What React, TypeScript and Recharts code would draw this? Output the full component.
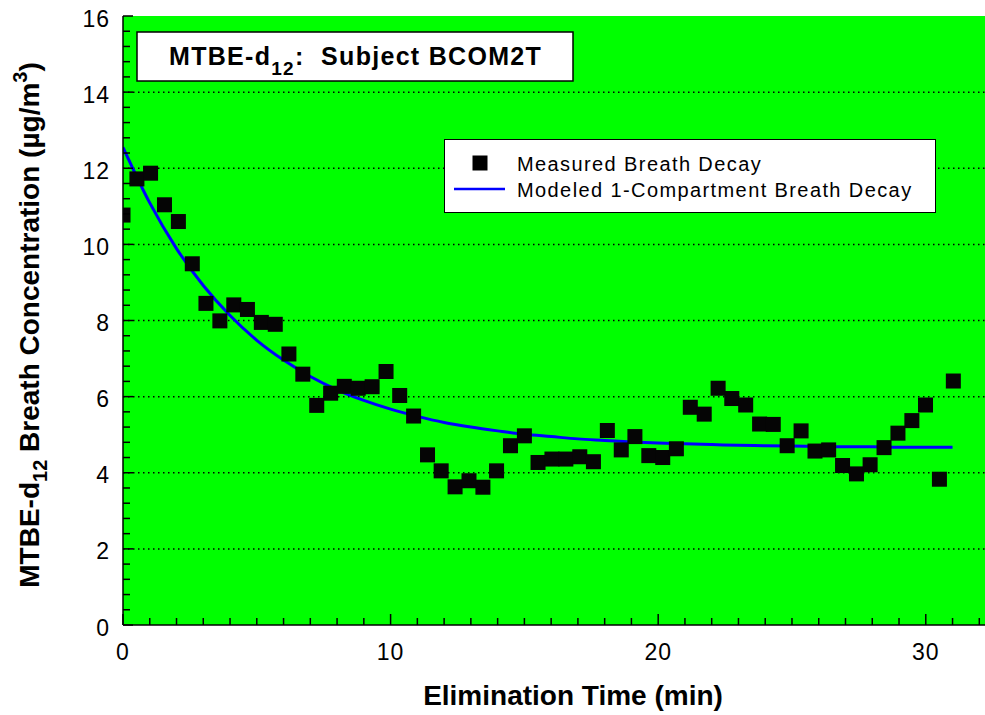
import { ComposedChart, Scatter, Line, XAxis, YAxis, CartesianGrid, Legend } from 'recharts';

// measured breath samples (min, µg/m3)
const measuredTime = [
  0, 0.52, 1.03, 1.55, 2.07, 2.59, 3.1, 3.62, 4.14, 4.65,
  5.17, 5.69, 6.2, 6.72, 7.24, 7.76, 8.27, 8.79, 9.31, 9.83,
  10.34, 10.86, 11.38, 11.89, 12.41, 12.93, 13.45, 13.96, 14.48, 15.0,
  15.51, 16.03, 16.55, 17.07, 17.58, 18.1, 18.62, 19.13, 19.65, 20.17,
  20.68, 21.2, 21.72, 22.24, 22.75, 23.27, 23.79, 24.3, 24.82, 25.34,
  25.86, 26.37, 26.89, 27.41, 27.92, 28.44, 28.96, 29.48, 29.99, 30.51,
  31.03,
];
const measuredConc = [
  10.77, 11.72, 11.87, 11.04, 10.6, 9.49, 8.45, 7.99, 8.41, 8.29,
  7.95, 7.9, 7.12, 6.59, 5.77, 6.09, 6.27, 6.22, 6.26, 6.66,
  6.03, 5.49, 4.47, 4.05, 3.63, 3.79, 3.62, 4.05, 4.71, 4.97,
  4.27, 4.36, 4.36, 4.42, 4.29, 5.11, 4.6, 4.95, 4.45, 4.4,
  4.63, 5.72, 5.54, 6.22, 5.95, 5.78, 5.28, 5.27, 4.71, 5.1,
  4.57, 4.6, 4.19, 3.97, 4.21, 4.66, 5.04, 5.37, 5.78, 3.83,
  6.41,
];

// modeled 1-compartment curve
const modelTime = [
  0, 1, 2, 3, 4, 5, 6, 7, 8, 9, 10, 11, 12, 13, 14, 15,
  16, 17, 18, 19, 20, 21, 22, 23, 24, 25, 26, 27, 28, 29, 30, 31,
];
const modelConc = [
  12.55, 11.09, 9.89, 8.92, 8.13, 7.48, 6.96, 6.53, 6.18, 5.9, 5.67, 5.48, 5.32, 5.2, 5.1, 5.01,
  4.95, 4.89, 4.85, 4.81, 4.78, 4.76, 4.74, 4.72, 4.71, 4.7, 4.69, 4.68, 4.68, 4.67, 4.67, 4.67,
];

const xMajorTicks = [0, 10, 20, 30];
const xMinorTicks = [
  0, 1, 2, 3, 4, 5, 6, 7, 8, 9, 10, 11, 12, 13, 14, 15, 16,
  17, 18, 19, 20, 21, 22, 23, 24, 25, 26, 27, 28, 29, 30, 31, 32,
];
const yMajorTicks = [0, 2, 4, 6, 8, 10, 12, 14, 16];
const yMinorTicks = [
  0, 0.4, 0.8, 1.2, 1.6, 2, 2.4, 2.8, 3.2, 3.6, 4, 4.4, 4.8, 5.2, 5.6, 6,
  6.4, 6.8, 7.2, 7.6, 8, 8.4, 8.8, 9.2, 9.6, 10, 10.4, 10.8, 11.2, 11.6, 12,
  12.4, 12.8, 13.2, 13.6, 14, 14.4, 14.8, 15.2, 15.6, 16,
];
const gridValues = [2, 4, 6, 8, 10, 12, 14];

const measured = measuredTime.map((t, i) => ({ t, c: measuredConc[i] }));
const modeled = modelTime.map((t, i) => ({ t, c: modelConc[i] }));

const FONT = '"Liberation Sans", Arial, sans-serif';

const BottomTick = (props: any) => {
  const { x, y, payload } = props;
  const major = xMajorTicks.includes(payload.value);
  return (
    <g>
      <line x1={x} x2={x} y1={y} y2={y - (major ? 11 : 7)} stroke="#000" strokeWidth={1.5} />
      {major && (
        <text x={x} y={y + 35} textAnchor="middle" fontFamily={FONT} fontSize={23} letterSpacing={1} fill="#000">
          {payload.value}
        </text>
      )}
    </g>
  );
};

const TopTick = (props: any) => {
  const { x, y, payload } = props;
  const major = xMajorTicks.includes(payload.value);
  return <line x1={x} x2={x} y1={y} y2={y + (major ? 11 : 7)} stroke="#000" strokeWidth={1.5} />;
};

const LeftTick = (props: any) => {
  const { x, y, payload } = props;
  const major = yMajorTicks.includes(payload.value);
  return (
    <g>
      <line x1={x} x2={x + (major ? 10 : 7)} y1={y} y2={y} stroke="#000" strokeWidth={1.5} />
      {major && (
        <text x={x - 13} y={y + 10.5} textAnchor="end" fontFamily={FONT} fontSize={23} letterSpacing={1} fill="#000">
          {payload.value}
        </text>
      )}
    </g>
  );
};

const LegendBox = () => (
  <div
    style={{
      width: 492,
      height: 74,
      boxSizing: 'border-box',
      background: '#fff',
      border: '1.5px solid #000',
      position: 'relative',
    }}
  >
    <svg width={492} height={74} style={{ position: 'absolute', left: -1.5, top: -1.5 }}>
      <rect x={28.5} y={16.5} width={15} height={15} fill="#000" />
      <line x1={10} x2={61} y1={50} y2={50} stroke="#0000ff" strokeWidth={2.5} />
      <text x={73} y={31.7} fontFamily={FONT} fontSize={20} letterSpacing={1.4} fill="#000">
        Measured Breath Decay
      </text>
      <text x={73} y={57.7} fontFamily={FONT} fontSize={20} letterSpacing={1.4} fill="#000">
        Modeled 1-Compartment Breath Decay
      </text>
    </svg>
  </div>
);

export default function App() {
  return (
    <div style={{ position: 'absolute', left: 0, top: 0, width: 985, height: 715, overflow: 'hidden', background: '#fff' }}>
      <ComposedChart width={990} height={715} margin={{ top: 16, right: 0, bottom: 0, left: 0 }}>
        <CartesianGrid
          fill="#00ff00"
          vertical={false}
          horizontalValues={gridValues}
          stroke="#000"
          strokeWidth={1.5}
          strokeDasharray="1.5 3.5"
        />
        <XAxis
          xAxisId="top"
          orientation="top"
          type="number"
          dataKey="t"
          domain={[0, 32.4]}
          allowDataOverflow
          ticks={xMinorTicks}
          interval={0}
          height={0}
          tickSize={0}
          tickMargin={0}
          tickLine={false}
          tick={<TopTick />}
          axisLine={{ stroke: '#000', strokeWidth: 1.5 }}
        />
        <XAxis
          type="number"
          dataKey="t"
          domain={[0, 32.4]}
          allowDataOverflow
          ticks={xMinorTicks}
          interval={0}
          height={90}
          tickSize={0}
          tickMargin={0}
          tickLine={false}
          tick={<BottomTick />}
          axisLine={{ stroke: '#000', strokeWidth: 1.5 }}
        />
        <YAxis
          type="number"
          dataKey="c"
          domain={[0, 16]}
          allowDataOverflow
          ticks={yMinorTicks}
          interval={0}
          width={123}
          tickSize={0}
          tickMargin={0}
          tickLine={false}
          tick={<LeftTick />}
          axisLine={{ stroke: '#000', strokeWidth: 1.5 }}
        />
        <Legend
          layout="horizontal"
          verticalAlign="middle"
          align="center"
          content={() => <LegendBox />}
          wrapperStyle={{ position: 'absolute', left: 444, top: 139, width: 492, height: 74 }}
        />
        <Line
          data={modeled}
          dataKey="c"
          type="monotone"
          stroke="#0000ff"
          strokeWidth={3}
          dot={false}
          activeDot={false}
          isAnimationActive={false}
          name="Modeled 1-Compartment Breath Decay"
        />
        <Scatter
          data={measured}
          dataKey="c"
          isAnimationActive={false}
          name="Measured Breath Decay"
          shape={(p: any) => <rect x={p.cx - 7.5} y={p.cy - 7.5} width={15} height={15} fill="#050505" />}
        />
      </ComposedChart>

      <svg width={985} height={715} style={{ position: 'absolute', left: 0, top: 0, pointerEvents: 'none' }}>
        <rect x={137} y={32} width={436} height={49} fill="#fff" stroke="#000" strokeWidth={1.5} />
        <text x={169} y={65} fontFamily={FONT} fontWeight="bold" fontSize={25} letterSpacing={1.3} fill="#000" style={{ whiteSpace: 'pre' }}>
          <tspan>MTBE-d</tspan>
          <tspan fontSize={19} dy={10}>12</tspan>
          <tspan dy={-10}>:  Subject BCOM2T</tspan>
        </text>
        <text
          x={573}
          y={705}
          textAnchor="middle"
          fontFamily={FONT}
          fontWeight="bold"
          fontSize={28}
          fill="#000"
        >
          Elimination Time (min)
        </text>
        <text
          x={39}
          y={325}
          transform="rotate(-90, 39, 325)"
          textAnchor="middle"
          fontFamily={FONT}
          fontWeight="bold"
          fontSize={28}
          fill="#000"
        >
          <tspan>MTBE-d</tspan>
          <tspan fontSize={20} dy={8}>12</tspan>
          <tspan dy={-8}> Breath Concentration (µg/m</tspan>
          <tspan fontSize={20} dy={-12}>3</tspan>
          <tspan dy={12}>)</tspan>
        </text>
      </svg>
    </div>
  );
}
